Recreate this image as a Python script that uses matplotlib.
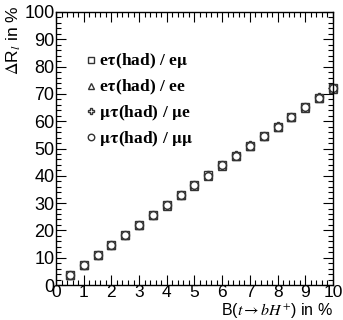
import numpy as np
import matplotlib.pyplot as plt
from matplotlib.ticker import MultipleLocator

plt.rcParams['font.family'] = ['Liberation Sans', 'DejaVu Sans']
plt.rcParams['mathtext.fontset'] = 'stix'

br = [0.5, 1.0, 1.5, 2.0, 2.5, 3.0, 3.5, 4.0, 4.5, 5.0,
      5.5, 6.0, 6.5, 7.0, 7.5, 8.0, 8.5, 9.0, 9.5, 10.0]
dr_etau_emu = [3.7, 7.4, 11.0, 14.7, 18.3, 22.0, 25.6, 29.3, 32.9, 36.6,
               40.2, 43.9, 47.4, 51.0, 54.5, 58.0, 61.6, 65.2, 68.6, 72.0]
dr_etau_ee = [3.6, 7.3, 10.9, 14.6, 18.2, 21.9, 25.5, 29.1, 32.8, 36.4,
              40.0, 43.7, 47.3, 50.9, 54.4, 57.9, 61.5, 65.0, 68.5, 71.9]
dr_mutau_mue = [3.7, 7.4, 11.1, 14.7, 18.4, 22.0, 25.7, 29.3, 33.0, 36.6,
                40.3, 43.9, 47.5, 51.1, 54.6, 58.1, 61.7, 65.3, 68.7, 72.2]
dr_mutau_mumu = [3.6, 7.3, 11.0, 14.6, 18.3, 21.9, 25.6, 29.2, 32.9, 36.5,
                 40.1, 43.8, 47.4, 51.0, 54.5, 58.0, 61.6, 65.1, 68.6, 72.1]

fig = plt.figure(figsize=(3.43, 3.2), dpi=100)
ax = fig.add_axes([56/343, 35/320, 277/343, 273/320])

col = '#333333'
kw = dict(ls='none', ms=5.5, mfc='white', mec=col, mew=1.0, clip_on=False)
ax.plot(br, dr_etau_emu, marker='s', label=r'e$\mathbf{\tau}$(had) / e$\mathbf{\mu}$', **kw)
ax.plot(br, dr_etau_ee, marker='^', label=r'e$\mathbf{\tau}$(had) / ee', **kw)
ax.plot(br, dr_mutau_mue, marker='P', label=r'$\mathbf{\mu\tau}$(had) / $\mathbf{\mu}$e', **kw)
ax.plot(br, dr_mutau_mumu, marker='o', label=r'$\mathbf{\mu\tau}$(had) / $\mathbf{\mu\mu}$', **kw)

ax.set_xlim(0, 10)
ax.set_ylim(0, 100)
ax.xaxis.set_major_locator(MultipleLocator(1))
ax.xaxis.set_minor_locator(MultipleLocator(0.2))
ax.yaxis.set_major_locator(MultipleLocator(10))
ax.yaxis.set_minor_locator(MultipleLocator(2))
ax.tick_params(which='both', direction='in', top=True, right=True, labelsize=13, width=0.8)
ax.tick_params(which='major', length=7, pad=1)
ax.tick_params(axis='x', which='major', pad=0, labelsize=12.5)
ax.tick_params(which='minor', length=3.5)
for s in ax.spines.values():
    s.set_linewidth(1.0)

ax.set_xlabel(r'B($t \rightarrow bH^{+}$) in %', fontsize=11.5, ha='right', va='center')
ax.xaxis.set_label_coords(1.0, -0.093)
ax.set_ylabel(r'$\Delta$R$_l$ in %', fontsize=12.5, ha='right')
ax.yaxis.set_label_coords(-0.119, 1.026)

leg = ax.legend(loc='upper left', bbox_to_anchor=(0.087, 0.878), frameon=False,
                prop={'family': 'Liberation Serif', 'weight': 'bold', 'size': 12.5},
                handletextpad=0.2, handlelength=0.5, labelspacing=0.38,
                borderaxespad=0, markerscale=0.85)

fig.savefig('out.png', dpi=100)
